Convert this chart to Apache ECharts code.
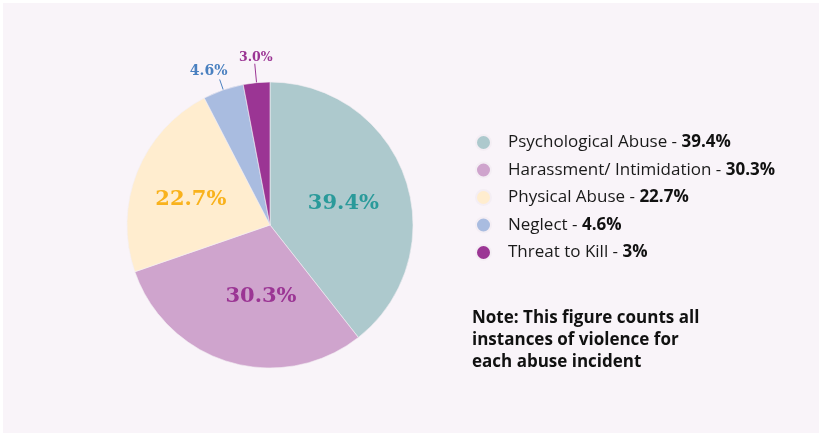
<!DOCTYPE html>
<html>
<head>
<meta charset="utf-8">
<script src="https://cdn.jsdelivr.net/npm/echarts@6/dist/echarts.min.js"></script>
<style>
html,body{margin:0;padding:0;background:#ffffff;}
#chart{position:absolute;left:3px;top:3px;width:816px;height:430px;background:#f9f4f9;}
</style>
</head>
<body>
<div id="chart"></div>
<script>
const categories = ['Psychological Abuse', 'Harassment/ Intimidation', 'Physical Abuse', 'Neglect', 'Threat to Kill'];
const values = [39.4, 30.3, 22.7, 4.6, 3.0];
const legendValueLabels = ['39.4%', '30.3%', '22.7%', '4.6%', '3%'];
const noteLines = ['Note: This figure counts all', 'instances of violence for', 'each abuse incident'];

const sliceColors = ['#adc9cd', '#cfa4cd', '#ffedcf', '#a9bce0', '#9b3594'];
const labelColors = ['#2a9a9a', '#9b3594', '#f9b21c', '#4a80c0', '#9b3594'];
const labelPositions = ['inside', 'inside', 'inside', 'outside', 'outside'];
const labelOffsets = [[3, 3], [12, 0], [-10, 2], [0, 0], [0, 0]];
const labelSizes = [21, 21, 21, 14, 12.5];
const leaderLengths = [10, 10, 10, 11, 19];
const outsideShift = {3: [-11, -8], 4: [1, -6]};

const chart = echarts.init(document.getElementById('chart'), null, {renderer: 'canvas'});

const data = categories.map((c, i) => ({
  name: c,
  value: values[i],
  itemStyle: {color: sliceColors[i]},
  label: {
    position: labelPositions[i],
    color: labelColors[i],
    fontSize: labelSizes[i],
    offset: labelOffsets[i]
  },
  labelLine: {length: leaderLengths[i], length2: 0, lineStyle: {color: labelColors[i], width: 1}}
}));

const option = {
  animation: false,
  legend: {
    orient: 'vertical',
    left: 467,
    top: 126,
    icon: 'circle',
    itemWidth: 15,
    itemHeight: 15,
    itemGap: 10.5,
    selectedMode: false,
    data: categories,
    formatter: function (name) {
      const i = categories.indexOf(name);
      return '{n|' + name + ' - }{v|' + legendValueLabels[i] + '}';
    },
    textStyle: {
      fontFamily: 'Open Sans',
      fontSize: 17,
      color: '#1a1a1a',
      rich: {
        n: {fontFamily: 'Open Sans', fontSize: 17, color: '#1a1a1a', padding: [0, 0, 0, 12], lineHeight: 20},
        v: {fontFamily: 'Open Sans', fontSize: 17, fontWeight: 'bold', color: '#111111', lineHeight: 20}
      }
    }
  },
  graphic: [{
    type: 'text',
    left: 469,
    top: 304,
    style: {
      text: noteLines.join('\n'),
      fontFamily: 'Open Sans',
      fontSize: 17,
      fontWeight: 'bold',
      lineHeight: 22,
      fill: '#111111'
    }
  }],
  series: [{
    type: 'pie',
    center: [267, 222],
    radius: 143,
    startAngle: 90,
    clockwise: true,
    avoidLabelOverlap: false,
    itemStyle: {borderColor: '#f4eef4', borderWidth: 0.6},
    label: {
      show: true,
      fontFamily: 'DejaVu Serif',
      fontWeight: 'bold',
      formatter: function (p) { return p.value.toFixed(1) + '%'; }
    },
    labelLine: {show: true, length: 14, length2: 0, smooth: false},
    labelLayout: function (params) {
      const s = outsideShift[params.dataIndex];
      const pts = params.labelLinePoints;
      if (!s || !pts) return {};
      const p0 = pts[0], p1 = pts[1];
      return {
        x: p1[0] + s[0],
        y: p1[1] + s[1],
        align: 'center',
        verticalAlign: 'middle',
        labelLinePoints: [p0, p1, p1]
      };
    },
    emphasis: {disabled: true},
    data: data
  }]
};
chart.setOption(option);
</script>
</body>
</html>
